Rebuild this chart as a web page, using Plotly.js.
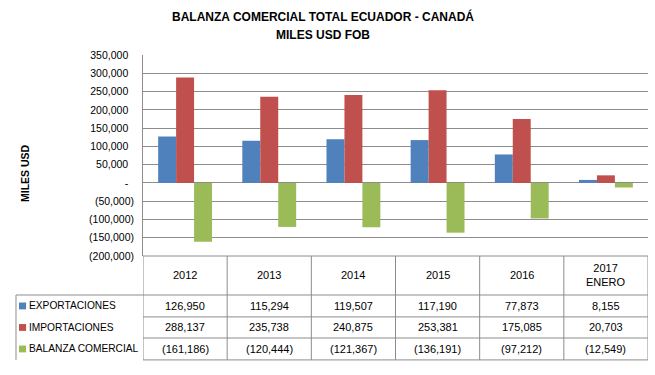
<!DOCTYPE html>
<html><head><meta charset="utf-8">
<script src="https://cdn.plot.ly/plotly-3.0.1.min.js"></script>
<style>html,body{margin:0;padding:0;background:#fff}#chart{width:655px;height:375px}</style>
</head><body><div id="chart"></div>
<script>
const categories = ['2012','2013','2014','2015','2016','2017 ENERO'];
const headerLabels = ['2012','2013','2014','2015','2016','2017<br>ENERO'];
const exportaciones = [126950, 115294, 119507, 117190, 77873, 8155];
const importaciones = [288137, 235738, 240875, 253381, 175085, 20703];
const balanza = [-161186, -120444, -121367, -136191, -97212, -12549];
const seriesNames = ['EXPORTACIONES','IMPORTACIONES','BALANZA COMERCIAL'];
const seriesColors = ['#4F81BD','#C0504D','#9BBB59'];
const tickVals = [350000,300000,250000,200000,150000,100000,50000,0,-50000,-100000,-150000,-200000];
const titleLines = ['BALANZA COMERCIAL TOTAL ECUADOR - CANADÁ','MILES USD FOB'];
const yTitle = 'MILES USD';

const FONT = '"Liberation Sans", Arial, sans-serif';
function fmt(v){
  if (v === 0) return '-';
  const s = Math.abs(v).toLocaleString('en-US');
  return v < 0 ? '(' + s + ')' : s;
}
const tickText = tickVals.map(v => fmt(v) + (v < 0 ? '\u00a0\u00a0' : '\u00a0\u00a0\u00a0\u00a0'));
const allSeries = [exportaciones, importaciones, balanza];

const traces = allSeries.map((vals,i)=>({
  type:'bar', x:categories, y:vals, name:seriesNames[i],
  marker:{color:seriesColors[i], line:{width:0}}, hoverinfo:'skip'
}));

const rowY = [0, -0.194, -0.303, -0.408, -0.517];
const legLeft = -0.2515;
const lineCol = '#8c8c8c';
const shapes = [];
const annotations = [];
shapes.push({type:'line', xref:'paper', yref:'paper', x0:0, x1:1, y0:rowY[0], y1:rowY[0], line:{color:lineCol,width:1}});
for (let r=1;r<rowY.length;r++){
  shapes.push({type:'line', xref:'paper', yref:'paper', x0:(r===1?legLeft:0), x1:1, y0:rowY[r], y1:rowY[r], line:{color:lineCol,width:1}});
}
for (let c=0;c<=categories.length;c++){
  shapes.push({type:'line', xref:'x', yref:'paper', x0:c-0.5, x1:c-0.5, y0:rowY[0], y1:rowY[4], line:{color:lineCol,width:1}});
}
shapes.push({type:'line', xref:'paper', yref:'paper', x0:legLeft, x1:legLeft, y0:rowY[1], y1:rowY[4], line:{color:lineCol,width:1}});
categories.forEach((c,i)=>{
  annotations.push({xref:'x', yref:'paper', x:i, y:(rowY[0]+rowY[1])/2, text:headerLabels[i], showarrow:false,
    font:{family:FONT,size:11,color:'#000'}, xanchor:'center', yanchor:'middle'});
});
allSeries.forEach((vals,r)=>{
  const yc = (rowY[r+1]+rowY[r+2])/2;
  vals.forEach((v,i)=>{
    annotations.push({xref:'x', yref:'paper', x:i, y:yc, text:fmt(v), showarrow:false,
      font:{family:FONT,size:11,color:'#000'}, xanchor:'center', yanchor:'middle'});
  });
  annotations.push({xref:'paper', yref:'paper', x:legLeft+0.022, y:yc, text:seriesNames[r], showarrow:false,
    font:{family:FONT,size:10.2,color:'#000'}, xanchor:'left', yanchor:'middle'});
  shapes.push({type:'rect', xref:'paper', yref:'paper', x0:legLeft+0.006, x1:legLeft+0.02, y0:yc-0.017, y1:yc+0.017,
    fillcolor:seriesColors[r], line:{width:0}});
});
annotations.push({xref:'paper', yref:'paper', x:0.357, y:1.194, text:'<b>'+titleLines[0]+'</b>', showarrow:false,
  font:{family:FONT,size:12,color:'#000'}, xanchor:'center', yanchor:'middle'});
annotations.push({xref:'paper', yref:'paper', x:0.357, y:1.0995, text:'<b>'+titleLines[1]+'</b>', showarrow:false,
  font:{family:FONT,size:12,color:'#000'}, xanchor:'center', yanchor:'middle'});
annotations.push({xref:'paper', yref:'paper', x:-0.2337, y:0.413, text:'<b>'+yTitle+'</b>', showarrow:false, textangle:-90,
  font:{family:FONT,size:10.5,color:'#000'}, xanchor:'center', yanchor:'middle'});

const layout = {
  width:655, height:375,
  margin:{l:143, r:7, t:55, b:119},
  paper_bgcolor:'#fff', plot_bgcolor:'#fff',
  showlegend:false,
  barmode:'group', bargap:0.36, bargroupgap:0,
  xaxis:{type:'category', showticklabels:false, showgrid:false, zeroline:false, showline:false, ticks:'', range:[-0.5,5.5], fixedrange:true},
  yaxis:{range:[-200000,350000], tickvals:tickVals, ticktext:tickText, showgrid:true, gridcolor:lineCol, gridwidth:1,
    zeroline:true, zerolinecolor:lineCol, zerolinewidth:1, showline:true, linecolor:lineCol, linewidth:1,
    ticks:'', ticklen:0, tickfont:{family:FONT,size:10.5,color:'#000'}},
  shapes:shapes, annotations:annotations
};
Plotly.newPlot('chart', traces, layout, {staticPlot:true, displayModeBar:false});
</script></body></html>
